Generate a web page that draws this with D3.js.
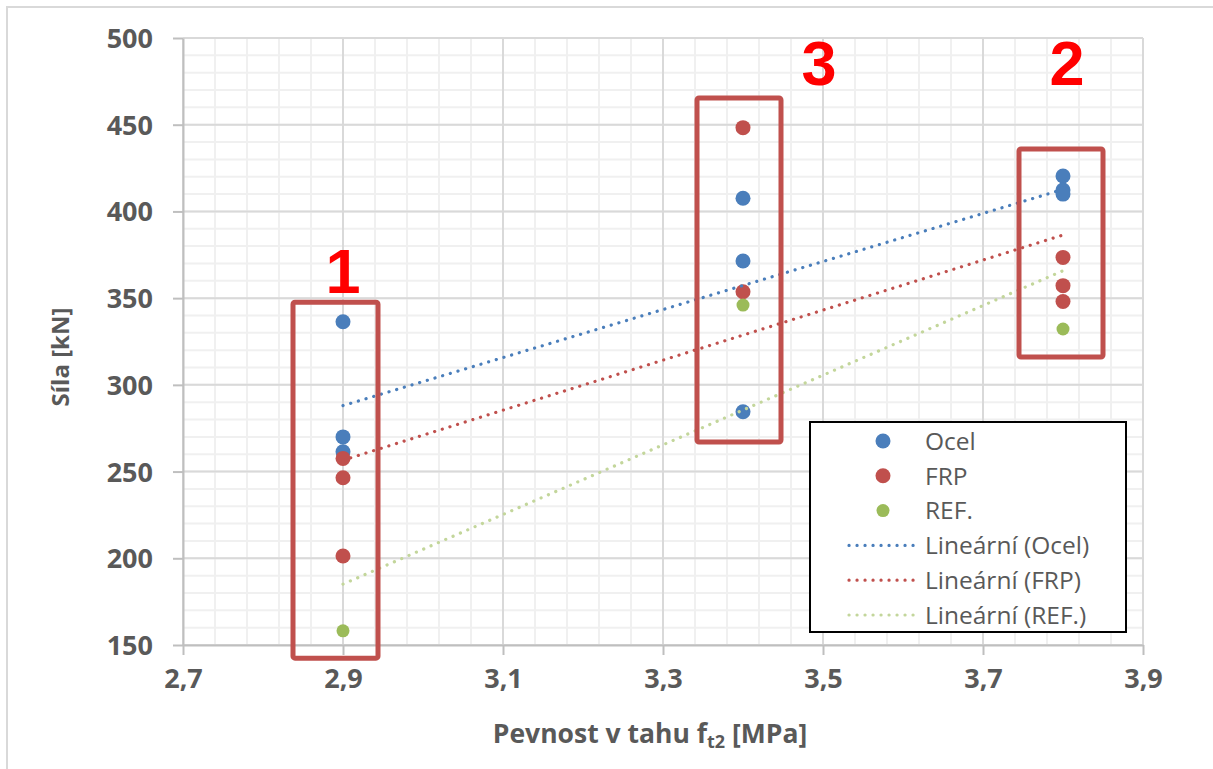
<!DOCTYPE html>
<html>
<head>
<meta charset="utf-8">
<script src="https://cdn.jsdelivr.net/npm/d3@7"></script>
<style>
  html, body { margin: 0; padding: 0; background: #ffffff; }
  svg { display: block; }
</style>
</head>
<body>
<svg id="chart" width="1213" height="769"></svg>
<script>
// ---- Data ----
const ocelX = [2.9, 2.9, 2.9, 3.4, 3.4, 3.4, 3.8, 3.8, 3.8];
const ocelY = [336.4, 270, 261.4, 407.6, 371.4, 284.5, 420.4, 412.3, 410];
const frpX  = [2.9, 2.9, 2.9, 3.4, 3.4, 3.8, 3.8, 3.8];
const frpY  = [257.6, 246.4, 201.3, 448.3, 353.7, 373.5, 357.2, 348.1];
const refX  = [2.9, 3.4, 3.8];
const refY  = [158.2, 346, 332.2];

const seriesNames = ["Ocel", "FRP", "REF."];
const trendNames = ["Lineární (Ocel)", "Lineární (FRP)", "Lineární (REF.)"];
const xTicks = [2.7, 2.9, 3.1, 3.3, 3.5, 3.7, 3.9];
const yTicks = [150, 200, 250, 300, 350, 400, 450, 500];
const xTitle = "Pevnost v tahu f";
const xTitleSub = "t2";
const xTitleEnd = " [MPa]";
const yTitle = "Síla [kN]";

// group annotations (data units)
const boxLabels = ["1", "3", "2"];
const boxX0 = [2.8375, 3.3425, 3.745];
const boxX1 = [2.94375, 3.4475, 3.85];
const boxY0 = [142.4, 267, 316];
const boxY1 = [347.7, 465.4, 436];
const labelX = [2.9, 3.495, 3.805];
const labelY = [353, 473, 473];

// ---- Setup ----
const colors = ["#4a7ebb", "#c0504d", "#9bbb59"];
const trendColors = ["#4a7ebb", "#c0504d", "#c3d69b"];
const textColor = "#595959";

const svg = d3.select("#chart");
const W = 1213, H = 769;
const plot = { left: 183, right: 1143, top: 38, bottom: 645 };

const x = d3.scaleLinear().domain([2.7, 3.9]).range([plot.left, plot.right]);
const y = d3.scaleLinear().domain([150, 500]).range([plot.bottom, plot.top]);

svg.append("rect").attr("width", W).attr("height", H).attr("fill", "#fff");
// chart-area border (only top/left visible in reference)
svg.append("rect").attr("x", 7).attr("y", 7).attr("width", W + 20).attr("height", H + 20)
  .attr("fill", "none").attr("stroke", "#d9d9d9").attr("stroke-width", 2);

// minor gridlines
const minorX = d3.range(0, 31).map(i => 2.7 + i * 0.04);
const minorY = d3.range(0, 36).map(i => 150 + i * 10);
const g = svg.append("g");
g.selectAll(".mx").data(minorX).join("line")
  .attr("x1", d => x(d)).attr("x2", d => x(d))
  .attr("y1", plot.top).attr("y2", plot.bottom)
  .attr("stroke", "#f0f0f0").attr("stroke-width", 2);
g.selectAll(".my").data(minorY).join("line")
  .attr("x1", plot.left).attr("x2", plot.right)
  .attr("y1", d => y(d)).attr("y2", d => y(d))
  .attr("stroke", "#f0f0f0").attr("stroke-width", 2);
// major gridlines
g.selectAll(".Mx").data(xTicks).join("line")
  .attr("x1", d => x(d)).attr("x2", d => x(d))
  .attr("y1", plot.top).attr("y2", plot.bottom)
  .attr("stroke", "#d9d9d9").attr("stroke-width", 2);
g.selectAll(".My").data(yTicks).join("line")
  .attr("x1", plot.left).attr("x2", plot.right)
  .attr("y1", d => y(d)).attr("y2", d => y(d))
  .attr("stroke", "#d9d9d9").attr("stroke-width", 2);

// axes
const fmtX = d => d3.format(".1f")(d).replace(".", ",");
const xAxis = svg.append("g").attr("transform", `translate(0,${plot.bottom})`)
  .call(d3.axisBottom(x).tickValues(xTicks).tickSize(10).tickSizeOuter(0).tickFormat(fmtX).tickPadding(14));
const yAxis = svg.append("g").attr("transform", `translate(${plot.left},0)`)
  .call(d3.axisLeft(y).tickValues(yTicks).tickSize(10).tickSizeOuter(0).tickPadding(20));
[xAxis, yAxis].forEach(a => {
  a.select(".domain").attr("stroke", "#bfbfbf").attr("stroke-width", 2);
  a.selectAll(".tick line").attr("stroke", "#bfbfbf").attr("stroke-width", 2);
  a.selectAll(".tick text").attr("fill", textColor)
    .style("font-family", "'Open Sans', sans-serif").style("font-weight", "bold").style("font-size", "27px");
});
yAxis.selectAll(".tick text").attr("dy", "0.35em");
xAxis.selectAll(".tick text").attr("dy", "0.71em");

// axis titles
const xt = svg.append("text").attr("x", 650).attr("y", 743)
  .attr("text-anchor", "middle").attr("fill", textColor)
  .style("font-family", "'Open Sans', sans-serif").style("font-weight", "bold").style("font-size", "26.5px");
xt.append("tspan").text(xTitle);
xt.append("tspan").text(xTitleSub).attr("dy", "5").style("font-size", "18px");
xt.append("tspan").text(xTitleEnd).attr("dy", "-5");

svg.append("text").attr("transform", `translate(69,${357}) rotate(-90)`)
  .attr("text-anchor", "middle").attr("fill", textColor)
  .style("font-family", "'Open Sans', sans-serif").style("font-weight", "bold").style("font-size", "24px")
  .text(yTitle);

// trendlines (least squares, drawn over data x-range)
function fit(xs, ys) {
  const mx = d3.mean(xs), my = d3.mean(ys);
  let sxy = 0, sxx = 0;
  xs.forEach((v, i) => { sxy += (v - mx) * (ys[i] - my); sxx += (v - mx) * (v - mx); });
  const b = sxy / sxx, a = my - b * mx;
  const [x0, x1] = d3.extent(xs);
  return [[x0, a + b * x0], [x1, a + b * x1]];
}
const allX = [ocelX, frpX, refX];
const allY = [ocelY, frpY, refY];
const line = d3.line().x(d => x(d[0])).y(d => y(d[1]));
const dotStyle = sel => sel.attr("stroke-width", 3.2).attr("stroke-linecap", "round").attr("stroke-dasharray", "0.1 7.9").attr("fill", "none");

// points
const radii = [7.5, 7.5, 6.5];
allX.forEach((xs, s) => {
  const pts = xs.map((v, i) => [v, allY[s][i]]);
  svg.append("g").selectAll("circle").data(pts).join("circle")
    .attr("cx", d => x(d[0])).attr("cy", d => y(d[1])).attr("r", radii[s])
    .attr("fill", colors[s]);
});
allX.forEach((xs, s) => {
  svg.append("path").datum(fit(xs, allY[s])).attr("d", line).attr("stroke", trendColors[s]).call(dotStyle);
});

// annotation boxes & labels
boxLabels.forEach((lab, i) => {
  svg.append("rect")
    .attr("x", x(boxX0[i])).attr("y", y(boxY1[i]))
    .attr("width", x(boxX1[i]) - x(boxX0[i])).attr("height", y(boxY0[i]) - y(boxY1[i]))
    .attr("rx", 2).attr("fill", "none").attr("stroke", "#c0504d").attr("stroke-width", 5);
  svg.append("text").attr("x", x(labelX[i])).attr("y", y(labelY[i]))
    .attr("text-anchor", "middle").attr("fill", "#ff0000")
    .style("font-family", "'Liberation Sans', Arial, sans-serif").style("font-weight", "bold").style("font-size", "63px")
    .text(lab);
});

// legend
const lg = svg.append("g");
lg.append("rect").attr("x", 810).attr("y", 422).attr("width", 316).attr("height", 210)
  .attr("fill", "#fff").attr("stroke", "#000").attr("stroke-width", 2);
const rowY0 = 441, rowStep = 34.8;
seriesNames.forEach((n, i) => {
  const cy = rowY0 + i * rowStep;
  lg.append("circle").attr("cx", 883).attr("cy", cy).attr("r", radii[i]).attr("fill", colors[i]);
  lg.append("text").attr("x", 925).attr("y", cy).attr("dy", "0.36em").attr("fill", textColor)
    .style("font-family", "'Open Sans', sans-serif").style("font-size", "24.5px").text(n);
});
trendNames.forEach((n, i) => {
  const cy = rowY0 + (i + 3) * rowStep;
  lg.append("line").attr("x1", 849).attr("x2", 917).attr("y1", cy).attr("y2", cy)
    .attr("stroke", trendColors[i]).call(dotStyle);
  lg.append("text").attr("x", 925).attr("y", cy).attr("dy", "0.36em").attr("fill", textColor)
    .style("font-family", "'Open Sans', sans-serif").style("font-size", "24.5px").text(n);
});
</script>
</body>
</html>
